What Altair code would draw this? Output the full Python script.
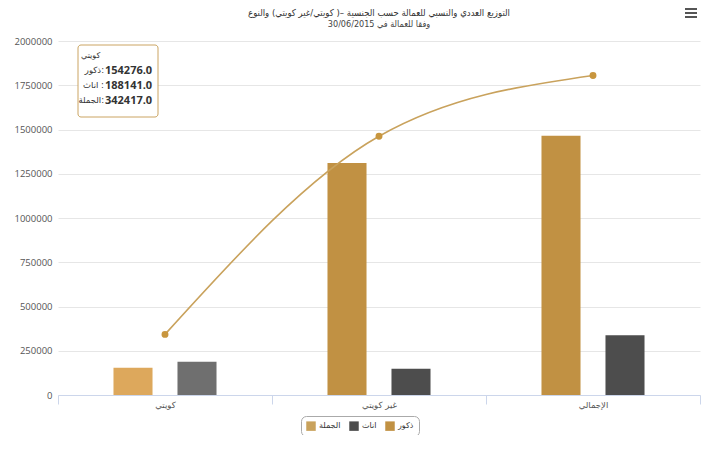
import altair as alt
import pandas as pd

# ---- data ----
categories = ["كويتي", "غير كويتي", "الإجمالي"]
series_bar = ["ذكور", "اناث"]
series_line = "الجملة"
males = [154276, 1311000, 1464000]
females = [188141, 148000, 338000]
totals = [342417, 1462000, 1805000]
y_ticks = [0, 250000, 500000, 750000, 1000000, 1250000, 1500000, 1750000, 2000000]
highlight_cat = "كويتي"   # hovered category in the reference (lighter bars)

title_text = "التوزيع العددي والنسبي للعمالة حسب الجنسية –( كويتي/غير كويتي) والنوع"
subtitle_text = "وفقا للعمالة في 30/06/2015"

# ---- tables ----
rows = []
for c, m, f in zip(categories, males, females):
    for s, v in ((series_bar[0], m), (series_bar[1], f)):
        key = s + "_h" if c == highlight_cat else s
        rows.append({"cat": c, "series": s, "value": v, "key": key})
bar_df = pd.DataFrame(rows)
line_df = pd.DataFrame({"cat": categories, "value": totals, "key": series_line})

keys = [series_line, series_bar[1], series_bar[0], series_bar[0] + "_h", series_bar[1] + "_h"]
key_colors = ["#C9A25C", "#4D4D4D", "#C19143", "#DDA85C", "#6F6F6F"]
color_scale = alt.Scale(domain=keys, range=key_colors)

AR_FONT = "DejaVu Sans"
AR_COND = "DejaVu Sans Condensed"
NUM_FONT = "Open Sans"

x_enc = alt.X(
    "cat:N", sort=categories,
    scale=alt.Scale(paddingInner=0, paddingOuter=0),
    axis=alt.Axis(title=None, labelAngle=0, domainColor="#ccd6eb", tickColor="#ccd6eb",
                  tickBand="extent", tickSize=9, labelPadding=-4, labelColor="#555",
                  labelFontSize=8.5, labelFont=AR_FONT, grid=False),
)
y_enc = alt.Y(
    "value:Q",
    scale=alt.Scale(domain=[0, 2000000], nice=False),
    axis=alt.Axis(title=None, values=y_ticks, format="d", domain=False, ticks=False,
                  gridColor="#e6e6e6", labelColor="#555", labelFontSize=9.5,
                  labelFont=NUM_FONT, labelPadding=6),
)

legend = alt.Legend(
    title=None, orient="none", legendX=243, legendY=375, direction="horizontal",
    values=[series_line, series_bar[1], series_bar[0]], symbolType="square",
    symbolSize=90, symbolStrokeWidth=0, labelFont=AR_FONT, labelFontSize=8,
    labelColor="#333", strokeColor="#aaaaaa", cornerRadius=5, padding=5,
    fillColor="white", columnPadding=8, labelOffset=3,
)

bars = alt.Chart(bar_df).mark_bar().encode(
    x=x_enc,
    xOffset=alt.XOffset("series:N", sort=series_bar,
                        scale=alt.Scale(paddingInner=0.39, paddingOuter=0.867)),
    y=y_enc,
    color=alt.Color("key:N", scale=color_scale, legend=legend),
)

line = alt.Chart(line_df).mark_line(interpolate="monotone", strokeWidth=1.6).encode(
    x=x_enc, y=y_enc, color=alt.Color("key:N", scale=color_scale, legend=legend),
)
points = alt.Chart(line_df).mark_circle(size=48, opacity=1, color="#C8963E").encode(
    x=x_enc, y=y_enc,
)

# ---- annotations: menu icon and the tooltip shown in the reference ----
one = pd.DataFrame({"a": [0]})
k = categories.index(highlight_cat)
tip_labels = "ذكور:\nاناث :\nالجملة:"
tip_values = "\n".join(f"{v:.1f}" for v in (males[k], females[k], totals[k]))

menu_layers = [
    alt.Chart(one).mark_rule(color="#555", strokeWidth=2).encode(
        x=alt.value(627), x2=alt.value(639), y=alt.value(yy))
    for yy in (-32, -28, -24)
]

tip_box = alt.Chart(one).mark_rect(
    fill="white", stroke="#C9A25C", strokeWidth=1, cornerRadius=3, opacity=0.96
).encode(x=alt.value(20), x2=alt.value(100), y=alt.value(4), y2=alt.value(76))
tip_head = alt.Chart(one).mark_text(
    align="left", baseline="middle", fontSize=8, font=AR_FONT, color="#333"
).encode(x=alt.value(23), y=alt.value(15), text=alt.value(highlight_cat))
tip_lab = alt.Chart(one).mark_text(
    align="right", baseline="top", fontSize=8.5, font=AR_FONT, color="#333",
    lineBreak="\n", lineHeight=15
).encode(x=alt.value(46), y=alt.value(25), text=alt.value(tip_labels))
tip_val = alt.Chart(one).mark_text(
    align="left", baseline="top", fontSize=11, font=NUM_FONT, fontWeight="bold",
    color="#333", lineBreak="\n", lineHeight=15
).encode(x=alt.value(47), y=alt.value(24), text=alt.value(tip_values))

chart = alt.layer(
    bars, line, points, tip_box, tip_head, tip_lab, tip_val, *menu_layers
).properties(
    width=642, height=354,
    title=alt.TitleParams(
        text=title_text, subtitle=subtitle_text, anchor="middle", frame="group",
        font=AR_COND, fontSize=9.5, fontWeight="normal", color="#333",
        subtitleFont=AR_COND, subtitleFontSize=9, subtitleColor="#444",
        offset=-21, subtitlePadding=3,
    ),
    autosize=alt.AutoSizeParams(type="none"),
    padding={"left": 50, "top": 33, "right": 20, "bottom": 40},
).configure_view(stroke=None).resolve_scale(color="shared")

chart.save("out.html", embed_options={"renderer": "svg", "actions": False})
